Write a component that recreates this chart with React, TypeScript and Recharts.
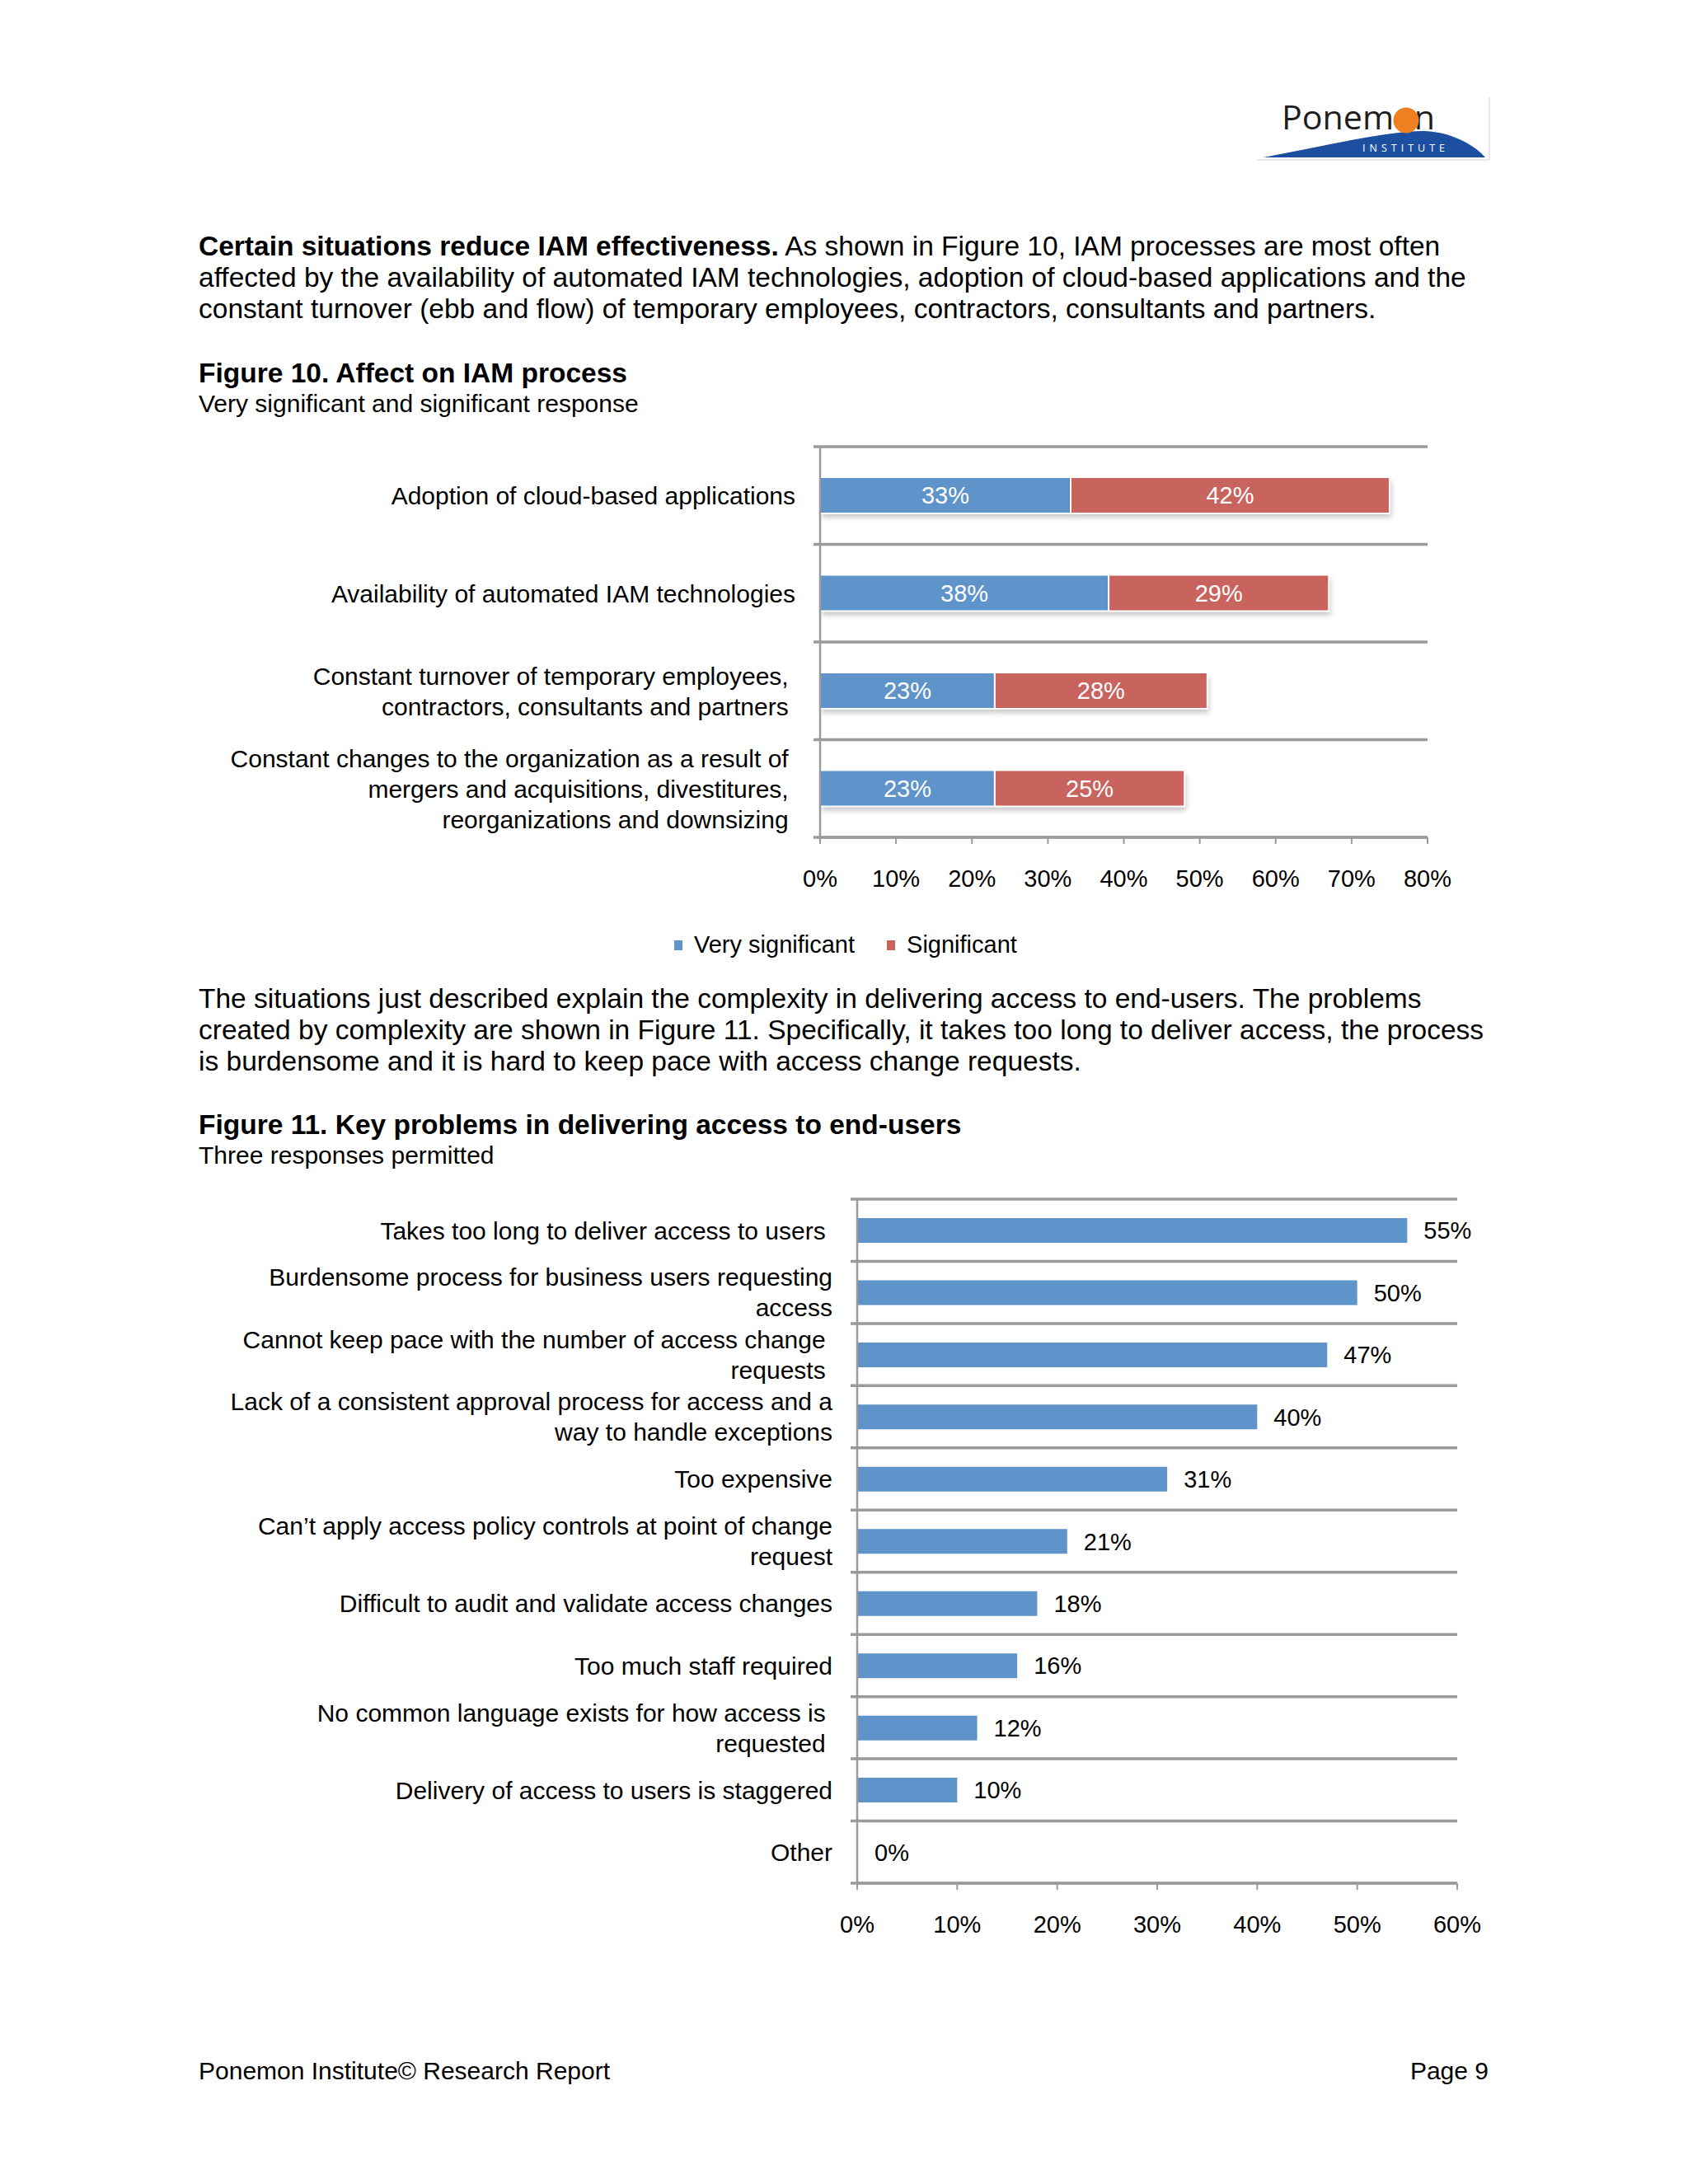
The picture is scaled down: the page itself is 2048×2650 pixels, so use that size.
import React from 'react';
import { BarChart, Bar, XAxis, YAxis, CartesianGrid, LabelList, Legend } from 'recharts';

const FONT = '"Liberation Sans", Arial, Helvetica, sans-serif';
const BLUE = '#5E94C9';
const RED = '#C9635E';
const GRID = '#9A9A9A';

// ---------- Figure 10 data ----------
const fig10Categories = [
  'Adoption of cloud-based applications',
  'Availability of automated IAM technologies',
  'Constant turnover of temporary employees,\u00a0\ncontractors, consultants and partners\u00a0',
  'Constant changes to the organization as a result of\u00a0\nmergers and acquisitions, divestitures,\u00a0\nreorganizations and downsizing\u00a0',
];
const fig10SeriesNames = ['Very significant', 'Significant'];
const fig10VerySignificant = [33, 38, 23, 23];
const fig10Significant = [42, 29, 28, 25];
const fig10Ticks = [0, 10, 20, 30, 40, 50, 60, 70, 80];

// ---------- Figure 11 data ----------
const fig11Categories = [
  'Takes too long to deliver access to users\u00a0',
  'Burdensome process for business users requesting\naccess',
  'Cannot keep pace with the number of access change\u00a0\nrequests\u00a0',
  'Lack of a consistent approval process for access and a\nway to handle exceptions',
  'Too expensive',
  'Can\u2019t apply access policy controls at point of change\nrequest',
  'Difficult to audit and validate access changes',
  'Too much staff required',
  'No common language exists for how access is\u00a0\nrequested\u00a0',
  'Delivery of access to users is staggered',
  'Other',
];
const fig11Values = [55, 50, 47, 40, 31, 21, 18, 16, 12, 10, 0];
const fig11Ticks = [0, 10, 20, 30, 40, 50, 60];

const fig10Data = fig10Categories.map((name, i) => ({
  name,
  very: fig10VerySignificant[i],
  sig: fig10Significant[i],
}));
const fig11Data = fig11Categories.map((name, i) => ({ name, value: fig11Values[i] }));

const pct = (v: any) => `${v}%`;

const MultiLineTick = (props: any) => {
  const { x, y, payload, lineHeight } = props;
  const lines = String(payload.value).split('\n');
  const start = y - ((lines.length - 1) * lineHeight) / 2;
  return (
    <text x={x} y={start} textAnchor="end" fontSize={30} fill="#000" fontFamily={FONT}>
      {lines.map((l: string, i: number) => (
        <tspan key={i} x={x} y={start + i * lineHeight} dy="0.36em">
          {l}
        </tspan>
      ))}
    </text>
  );
};

const boundaryGenerator = (n: number) => (arg: any) => {
  const off = arg.offset;
  const out: number[] = [];
  for (let i = 0; i <= n; i++) out.push(off.top + (off.height * i) / n);
  return out;
};

const gridLine = (p: any) => (
  <line
    key={`g-${p.index}-${p.y1}`}
    x1={p.x1 - 8}
    x2={p.x2}
    y1={p.y1}
    y2={p.y2}
    stroke={GRID}
    strokeWidth={3.5}
  />
);

const ShadowBar = (p: any) => {
  const { x, y, width, height, fill } = p;
  if (!width || width <= 0) return null;
  return (
    <g>
      <rect
        x={x + 2}
        y={y + 5}
        width={width}
        height={height}
        fill="#000"
        opacity={0.22}
        style={{ filter: 'blur(3px)' }}
      />
      <rect x={x} y={y} width={width} height={height} fill={fill} stroke="#fff" strokeWidth={2} />
    </g>
  );
};

const LegendContent = (props: any) => {
  const items = [...(props.payload || [])].sort(
    (a: any, b: any) => fig10SeriesNames.indexOf(a.value) - fig10SeriesNames.indexOf(b.value),
  );
  return (
    <div style={{ display: 'flex', alignItems: 'center', fontFamily: FONT, fontSize: 29, color: '#000' }}>
      {items.map((it: any, i: number) => (
        <div key={i} style={{ display: 'flex', alignItems: 'center', marginRight: 39 }}>
          <span style={{ display: 'inline-block', width: 10, height: 12, background: it.color, marginRight: 14 }} />
          <span>{it.value}</span>
        </div>
      ))}
    </div>
  );
};

const Logo = () => (
  <svg width={320} height={110} style={{ position: 'absolute', left: 1500, top: 100 }}>
    <line x1={307} y1={18} x2={307} y2={94} stroke="#e2e2e2" strokeWidth={1.5} />
    <line x1={25} y1={94} x2={307} y2={94} stroke="#e2e2e2" strokeWidth={1.5} />
    <path d="M 33 91 C 110 76, 190 58, 228 59 C 262 60, 290 77, 302 91 Z" fill="#1D4FA0" />
    <text
      x={55}
      y={57}
      fontFamily='"Open Sans", "Noto Sans", sans-serif'
      fontSize={40}
      fill="#1e1e1e"
      textLength={186}
      lengthAdjust="spacingAndGlyphs"
    >
      Ponem<tspan fill="transparent">o</tspan>n
    </text>
    <circle cx={206} cy={46} r={15.5} fill="#F0801F" />
    <text
      x={153}
      y={84}
      fontFamily='"Open Sans", "Noto Sans", sans-serif'
      fontSize={12.5}
      fill="#fff"
      textLength={100}
      lengthAdjust="spacing"
    >
      INSTITUTE
    </text>
  </svg>
);

const txt: React.CSSProperties = {
  position: 'absolute',
  left: 241,
  fontFamily: FONT,
  fontSize: 30,
  lineHeight: '38px',
  color: '#000',
  whiteSpace: 'nowrap',
};
const para: React.CSSProperties = { ...txt, fontSize: 33.5 };

export default function App() {
  return (
    <div
      style={{
        position: 'absolute',
        left: 0,
        top: 0,
        width: 2048,
        height: 2650,
        background: '#fff',
        overflow: 'hidden',
      }}
    >
      <Logo />

      <div style={{ ...para, top: 280 }}>
        <b>Certain situations reduce IAM effectiveness.</b> As shown in Figure 10, IAM processes are most often
        <br />
        affected by the availability of automated IAM technologies, adoption of cloud-based applications and the
        <br />
        constant turnover (ebb and flow) of temporary employees, contractors, consultants and partners.
      </div>

      <div style={{ ...para, top: 434, fontWeight: 'bold' }}>Figure 10. Affect on IAM process</div>
      <div style={{ ...txt, top: 471 }}>Very significant and significant response</div>

      <div style={{ position: 'absolute', left: 0, top: 500 }}>
        <BarChart
          width={1800}
          height={700}
          data={fig10Data}
          layout="vertical"
          margin={{ top: 42, right: 68, bottom: 104, left: 0 }}
        >
          <CartesianGrid
            vertical={false}
            horizontal={gridLine as any}
            horizontalCoordinatesGenerator={boundaryGenerator(fig10Data.length) as any}
          />
          <XAxis
            type="number"
            domain={[0, 80]}
            ticks={fig10Ticks}
            interval={0}
            tickFormatter={pct}
            axisLine={{ stroke: GRID, strokeWidth: 3 }}
            tickLine={{ stroke: GRID, strokeWidth: 2 }}
            tickSize={8}
            tickMargin={31}
            height={80}
            tick={{ fill: '#000', fontSize: 29, fontFamily: FONT }}
          />
          <YAxis
            type="category"
            dataKey="name"
            width={995}
            interval={0}
            tickSize={0}
            tickMargin={30}
            tickLine={false}
            axisLine={{ stroke: GRID, strokeWidth: 2.5 }}
            tick={(p: any) => <MultiLineTick {...p} lineHeight={37} />}
          />
          <Legend
            layout="horizontal"
            verticalAlign="middle"
            align="center"
            wrapperStyle={{ top: 630, left: 818, width: 500, height: 34 }}
            content={<LegendContent />}
          />
          <Bar
            dataKey="very"
            name={fig10SeriesNames[0]}
            stackId="a"
            fill={BLUE}
            barSize={44}
            isAnimationActive={false}
            shape={<ShadowBar />}
          >
            <LabelList dataKey="very" position="center" formatter={pct} fill="#fff" fontSize={29} fontFamily={FONT} />
          </Bar>
          <Bar
            dataKey="sig"
            name={fig10SeriesNames[1]}
            stackId="a"
            fill={RED}
            barSize={44}
            isAnimationActive={false}
            shape={<ShadowBar />}
          >
            <LabelList dataKey="sig" position="center" formatter={pct} fill="#fff" fontSize={29} fontFamily={FONT} />
          </Bar>
        </BarChart>
      </div>

      <div style={{ ...para, top: 1193 }}>
        The situations just described explain the complexity in delivering access to end-users. The problems
        <br />
        created by complexity are shown in Figure 11. Specifically, it takes too long to deliver access, the process
        <br />
        is burdensome and it is hard to keep pace with access change requests.
      </div>

      <div style={{ ...para, top: 1346, fontWeight: 'bold' }}>Figure 11. Key problems in delivering access to end-users</div>
      <div style={{ ...txt, top: 1383 }}>Three responses permitted</div>

      <div style={{ position: 'absolute', left: 0, top: 1400 }}>
        <BarChart
          width={1850}
          height={1000}
          data={fig11Data}
          layout="vertical"
          margin={{ top: 55, right: 82, bottom: 35, left: 0 }}
        >
          <CartesianGrid
            vertical={false}
            horizontal={gridLine as any}
            horizontalCoordinatesGenerator={boundaryGenerator(fig11Data.length) as any}
          />
          <XAxis
            type="number"
            domain={[0, 60]}
            ticks={fig11Ticks}
            interval={0}
            tickFormatter={pct}
            axisLine={{ stroke: GRID, strokeWidth: 3 }}
            tickLine={{ stroke: GRID, strokeWidth: 2 }}
            tickSize={8}
            tickMargin={31}
            height={80}
            tick={{ fill: '#000', fontSize: 29, fontFamily: FONT }}
          />
          <YAxis
            type="category"
            dataKey="name"
            width={1040}
            interval={0}
            tickSize={0}
            tickMargin={30}
            tickLine={false}
            axisLine={{ stroke: GRID, strokeWidth: 2.5 }}
            tick={(p: any) => <MultiLineTick {...p} lineHeight={37} />}
          />
          <Bar dataKey="value" fill={BLUE} barSize={30} minPointSize={1} isAnimationActive={false}>
            <LabelList
              dataKey="value"
              position="right"
              offset={20}
              formatter={pct}
              fill="#000"
              fontSize={29}
              fontFamily={FONT}
            />
          </Bar>
        </BarChart>
      </div>

      <div style={{ ...txt, top: 2494 }}>Ponemon Institute© Research Report</div>
      <div style={{ ...txt, left: undefined, right: 242, top: 2494 }}>Page 9</div>
    </div>
  );
}
